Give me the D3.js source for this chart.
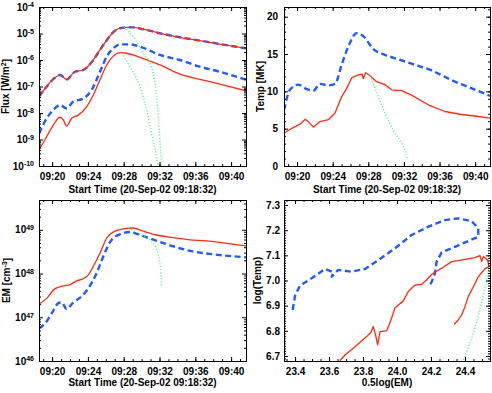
<!DOCTYPE html>
<html>
<head>
<meta charset="utf-8">
<script src="https://cdn.jsdelivr.net/npm/d3@7"></script>
<style>
	body { margin: 0; background: #fff; }
	svg text { font-family: "Liberation Sans", Arial, sans-serif; font-weight: bold; font-size: 10px; fill: #000; }
</style>
</head>
<body>
<svg id="chart" width="492" height="393"></svg>
<script>
// ---- data ----
const timeRange = ["09:18:32", "09:41:40"];

// Flux panel (W/m^2)
const fluxHiTimes = ["09:18:32", "09:19:24", "09:20:08", "09:20:53", "09:21:37", "09:22:33", "09:23:29", "09:24:36", "09:25:21", "09:26:06", "09:26:50", "09:27:35", "09:28:20", "09:29:04", "09:30:11", "09:32:03", "09:34:17", "09:36:31", "09:38:45", "09:41:40"];
const fluxHi = [4.2e-8, 1.0e-7, 1.9e-7, 2.7e-7, 1.86e-7, 3.6e-7, 4.2e-7, 1.0e-6, 2.4e-6, 5.6e-6, 1.12e-5, 1.58e-5, 1.7e-5, 1.7e-5, 1.45e-5, 1.02e-5, 7.2e-6, 5.4e-6, 4.0e-6, 2.75e-6];

const fluxMidTimes = ["09:18:32", "09:19:24", "09:20:08", "09:20:53", "09:21:37", "09:22:22", "09:23:29", "09:24:25", "09:25:21", "09:26:06", "09:26:50", "09:27:35", "09:28:42", "09:29:49", "09:32:03", "09:34:17", "09:36:31", "09:38:45", "09:41:40"];
const fluxMid = [1.7e-9, 6.3e-9, 1.3e-8, 2.0e-8, 1.5e-8, 2.7e-8, 3.5e-8, 7.4e-8, 3.6e-7, 1.35e-6, 2.75e-6, 3.9e-6, 3.9e-6, 3.2e-6, 1.55e-6, 1.0e-6, 5.6e-7, 3.6e-7, 1.8e-7];

const fluxLoTimes = ["09:18:32", "09:19:24", "09:20:08", "09:20:53", "09:21:15", "09:21:37", "09:22:11", "09:22:55", "09:23:52", "09:24:36", "09:25:21", "09:26:06", "09:26:50", "09:27:35", "09:28:20", "09:29:49", "09:32:03", "09:34:17", "09:36:31", "09:38:45", "09:41:40"];
const fluxLo = [4.0e-10, 1.3e-9, 3.5e-9, 6.9e-9, 5.5e-9, 3.2e-9, 6.3e-9, 8.3e-9, 1.74e-8, 4.8e-8, 1.8e-7, 6.5e-7, 1.4e-6, 1.9e-6, 1.8e-6, 1.26e-6, 6.5e-7, 2.95e-7, 1.86e-7, 1.23e-7, 6.9e-8];

const fluxDecayHiTimes = ["09:28:02", "09:29:04", "09:30:11", "09:31:07", "09:31:30", "09:31:52", "09:32:03", "09:32:15"];
const fluxDecayHi = [1.7e-5, 7.6e-6, 1.8e-6, 5.5e-7, 1.3e-7, 7.2e-9, 9.5e-10, 9.5e-11];
const fluxDecayLoTimes = ["09:27:46", "09:28:42", "09:29:49", "09:30:34", "09:31:07", "09:31:41", "09:31:52"];
const fluxDecayLo = [1.8e-6, 5.6e-7, 1.0e-7, 1.3e-8, 1.7e-9, 2.2e-10, 9e-11];

// Temperature panel (MK)
const tempBlueTimes = ["09:18:32", "09:19:12", "09:20:08", "09:21:05", "09:21:50", "09:22:34", "09:23:31", "09:24:16", "09:25:01", "09:25:45", "09:26:42", "09:27:26", "09:28:32", "09:29:52", "09:31:22", "09:32:52", "09:35:07", "09:37:22", "09:39:37", "09:41:40"];
const tempBlue = [7.5, 10.2, 10.9, 10.3, 10.1, 11.0, 10.8, 11.0, 13.6, 16.0, 17.8, 17.4, 15.7, 14.9, 14.3, 13.7, 12.8, 11.5, 10.4, 9.4];
const tempRedTimes = ["09:18:32", "09:19:24", "09:20:20", "09:20:54", "09:21:16", "09:21:50", "09:22:34", "09:23:31", "09:24:16", "09:25:01", "09:25:34", "09:26:08", "09:26:52", "09:27:19", "09:27:26", "09:27:42", "09:28:12", "09:28:56", "09:29:52", "09:30:37", "09:31:45", "09:32:52", "09:34:44", "09:36:37", "09:38:29", "09:39:59", "09:41:40"];
const tempRed = [4.4, 5.05, 5.6, 6.25, 5.95, 5.2, 5.95, 6.2, 7.1, 9.3, 10.4, 11.8, 12.2, 12.3, 11.7, 12.5, 12.1, 11.3, 10.9, 10.2, 10.1, 9.5, 8.2, 7.3, 6.9, 6.7, 6.4];
const tempGreenTimes = ["09:28:12", "09:29:08", "09:29:52", "09:30:48", "09:31:45", "09:32:07", "09:32:23"];
const tempGreen = [12.1, 9.3, 7.1, 4.8, 3.05, 2.15, 0.8];

// Emission measure panel (cm^-3)
const emRedTimes = ["09:18:32", "09:19:24", "09:20:15", "09:21:15", "09:22:00", "09:22:45", "09:23:29", "09:24:03", "09:24:48", "09:25:21", "09:26:06", "09:27:01", "09:27:57", "09:29:04", "09:30:11", "09:31:41", "09:33:32", "09:35:24", "09:37:16", "09:39:30", "09:41:40"];
const emRed = [2.0e47, 2.7e47, 4.4e47, 5.2e47, 5.6e47, 6.8e47, 7.6e47, 9.3e47, 1.74e48, 2.9e48, 6.5e48, 9.3e48, 1.05e49, 1.1e49, 9.3e48, 7.6e48, 6.6e48, 5.9e48, 5.6e48, 4.9e48, 4.3e48];
const emBlueTimes = ["09:18:32", "09:19:12", "09:19:57", "09:20:42", "09:21:04", "09:21:37", "09:22:22", "09:23:18", "09:24:03", "09:24:58", "09:25:43", "09:26:28", "09:27:35", "09:28:42", "09:29:49", "09:31:41", "09:33:32", "09:35:24", "09:38:01", "09:41:40"];
const emBlue = [5.6e46, 7.2e46, 1.23e47, 2.1e47, 2.2e47, 1.55e47, 2.2e47, 3.0e47, 4.6e47, 1.02e48, 2.45e48, 5.2e48, 7.9e48, 8.9e48, 7.6e48, 5.6e48, 4.2e48, 3.3e48, 2.75e48, 2.35e48];
const emGreenTimes = ["09:28:31", "09:29:49", "09:31:18", "09:31:52", "09:32:07", "09:32:14"];
const emGreen = [1.1e49, 7.9e48, 4.9e48, 2.7e48, 1.3e48, 5.0e47];

// log(Temp) against 0.5 log(EM)
const loopBlueX = [23.386, 23.40, 23.429, 23.498, 23.576, 23.625, 23.616, 23.654, 23.733, 23.811, 23.89, 23.988, 24.086, 24.184, 24.282, 24.36, 24.439, 24.478, 24.478, 24.419, 24.341, 24.263, 24.233, 24.223, 24.204, 24.194];
const loopBlueY = [6.883, 6.94, 6.98, 7.009, 7.046, 7.033, 7.015, 7.042, 7.035, 7.046, 7.081, 7.128, 7.181, 7.214, 7.240, 7.247, 7.236, 7.207, 7.174, 7.157, 7.134, 7.112, 7.075, 7.029, 6.995, 6.982];
const loopRedX = [23.664, 23.694, 23.753, 23.821, 23.847, 23.86, 23.874, 23.886, 23.9, 23.939, 23.953, 23.968, 23.988, 24.037, 24.066, 24.106, 24.145, 24.174, 24.204, 24.263, 24.322, 24.4, 24.459, 24.488, 24.498, 24.507, 24.533, 24.541, 24.517, 24.478, 24.449, 24.419, 24.4, 24.38, 24.36, 24.337];
const loopRedY = [6.681, 6.704, 6.737, 6.777, 6.794, 6.817, 6.783, 6.744, 6.797, 6.8, 6.823, 6.85, 6.892, 6.919, 6.956, 6.982, 6.985, 7.002, 7.025, 7.049, 7.075, 7.084, 7.091, 7.099, 7.075, 7.095, 7.081, 7.055, 7.046, 7.015, 6.975, 6.936, 6.896, 6.863, 6.843, 6.826];
const loopGreenX = [24.541, 24.527, 24.498, 24.469, 24.439, 24.41, 24.39];
const loopGreenY = [7.055, 6.995, 6.916, 6.836, 6.77, 6.717, 6.681];

const RED = "#ff2a12", BLUE = "#1f5bff", GREEN = "#48f27c";
const parseTime = d3.timeParse("%H:%M:%S");
const svg = d3.select("#chart");

function pts(xs, ys, parse) {
	return xs.map((v, i) => [parse ? parseTime(v) : v, ys[i]]);
}

// IDL style frame: ticks on all four sides pointing inward
function frame(g, x, y, xMajor, xMinor, yMajor, yMinor) {
	const [x0, x1] = x.range();
	const [y1, y0] = y.range();
	const side = (axisFn, scale, vals, len, tr) => {
		g.append("g")
			.attr("transform", tr)
			.call(axisFn(scale).tickValues(vals).tickSize(-len).tickFormat(""))
			.call(a => a.select(".domain").remove());
	};
	side(d3.axisBottom, x, xMajor, 4, `translate(0,${y1})`);
	side(d3.axisBottom, x, xMinor, 2, `translate(0,${y1})`);
	side(d3.axisTop, x, xMajor, 4, `translate(0,${y0})`);
	side(d3.axisTop, x, xMinor, 2, `translate(0,${y0})`);
	side(d3.axisLeft, y, yMajor, 4, `translate(${x0},0)`);
	side(d3.axisLeft, y, yMinor, 2, `translate(${x0},0)`);
	side(d3.axisRight, y, yMajor, 4, `translate(${x1},0)`);
	side(d3.axisRight, y, yMinor, 2, `translate(${x1},0)`);
	g.append("rect")
		.attr("x", x0 + 0.5).attr("y", y0 + 0.5)
		.attr("width", x1 - x0).attr("height", y1 - y0)
		.attr("fill", "none").attr("stroke", "#000").attr("stroke-width", 1);
}

function clip(id, x, y) {
	const [x0, x1] = x.range();
	const [y1, y0] = y.range();
	svg.append("clipPath").attr("id", id)
		.append("rect").attr("x", x0).attr("y", y0).attr("width", x1 - x0).attr("height", y1 - y0);
	return svg.append("g").attr("clip-path", `url(#${id})`);
}

function drawLine(g, data, x, y, color, kind, smooth) {
	const line = d3.line().x(d => x(d[0])).y(d => y(d[1]));
	if (smooth) line.curve(d3.curveMonotoneX);
	const path = g.append("path")
		.datum(data)
		.attr("d", line)
		.attr("fill", "none")
		.attr("stroke", color)
		.attr("stroke-linejoin", "round");
	if (kind === "dash") path.attr("stroke-width", 2.4).attr("stroke-dasharray", "6,3.5");
	else if (kind === "dot") path.attr("stroke-width", 1.4).attr("stroke-dasharray", "1,2");
	else path.attr("stroke-width", 1.3);
}

function logTicks(lo, hi) {
	const major = [], minor = [];
	for (let e = lo; e <= hi; e++) {
		major.push(Math.pow(10, e));
		for (let k = 2; k <= 9; k++) minor.push(k * Math.pow(10, e));
	}
	return { major, minor };
}

// exponent labels: 10 with superscript
function powerLabels(g, y, x0, exps) {
	exps.forEach(e => {
		const t = g.append("text")
			.attr("x", x0 - 5)
			.attr("y", y(Math.pow(10, e)))
			.attr("dy", "0.35em")
			.attr("text-anchor", "end");
		t.append("tspan").text("10");
		t.append("tspan").attr("dy", "-0.45em").style("font-size", "7px").text(e);
	});
}

function timeLabels(g, x, yBase) {
	g.append("g")
		.attr("transform", `translate(0,${yBase})`)
		.call(d3.axisBottom(x).tickValues(d3.timeMinute.every(4).range(x.domain()[0], x.domain()[1]))
			.tickSize(0).tickPadding(7).tickFormat(d3.timeFormat("%H:%M")))
		.call(a => a.select(".domain").remove());
}

function xTitle(text, cx, y) {
	svg.append("text").attr("x", cx).attr("y", y).attr("text-anchor", "middle").text(text);
}

function yTitle(parts, x, cy) {
	const t = svg.append("text")
		.attr("transform", `translate(${x},${cy}) rotate(-90)`)
		.attr("text-anchor", "middle");
	parts.forEach(p => {
		const s = t.append("tspan").text(p.t);
		if (p.sup) s.attr("dy", "-0.45em").style("font-size", "7px");
		if (p.down) s.attr("dy", "0.45em");
	});
}

const tDomain = timeRange.map(parseTime);
const minorTimes = d3.timeMinute.every(1).range(tDomain[0], tDomain[1]);
const majorTimes = d3.timeMinute.every(4).range(tDomain[0], tDomain[1]);
const L = [39, 246], R = [284, 490], T = [166, 7], B = [361, 200];

// ---- panel 1: flux ----
{
	const x = d3.scaleTime().domain(tDomain).range(L);
	const y = d3.scaleLog().domain([1e-10, 1e-4]).range(T);
	const g = clip("c1", x, y);
	drawLine(g, pts(fluxHiTimes, fluxHi, true), x, y, BLUE, "dash", true);
	drawLine(g, pts(fluxHiTimes, fluxHi, true), x, y, RED, "solid", true);
	drawLine(g, pts(fluxMidTimes, fluxMid, true), x, y, BLUE, "dash", true);
	drawLine(g, pts(fluxLoTimes, fluxLo, true), x, y, RED, "solid", true);
	drawLine(g, pts(fluxDecayHiTimes, fluxDecayHi, true), x, y, GREEN, "dot", true);
	drawLine(g, pts(fluxDecayLoTimes, fluxDecayLo, true), x, y, GREEN, "dot", true);
	const lt = logTicks(-10, -5);
	const f = svg.append("g");
	frame(f, x, y, majorTimes, minorTimes, lt.major.concat([1e-4]), lt.minor);
	powerLabels(f, y, L[0], [-4, -5, -6, -7, -8, -9, -10]);
	timeLabels(f, x, T[0]);
	xTitle("Start Time (20-Sep-02 09:18:32)", (L[0] + L[1]) / 2, 193);
	yTitle([{ t: "Flux [W/m" }, { t: "2", sup: true }, { t: "]", down: true }], 9, (T[0] + T[1]) / 2);
}

// ---- panel 2: temperature ----
{
	const x = d3.scaleTime().domain(tDomain).range(R);
	const y = d3.scaleLinear().domain([0, 21.3]).range(T);
	const g = clip("c2", x, y);
	drawLine(g, pts(tempBlueTimes, tempBlue, true), x, y, BLUE, "dash", true);
	drawLine(g, pts(tempRedTimes, tempRed, true), x, y, RED, "solid");
	drawLine(g, pts(tempGreenTimes, tempGreen, true), x, y, GREEN, "dot", true);
	const f = svg.append("g");
	frame(f, x, y, majorTimes, minorTimes, [0, 5, 10, 15, 20], d3.range(0, 22, 1));
	f.append("g")
		.attr("transform", `translate(${R[0]},0)`)
		.call(d3.axisLeft(y).tickValues([0, 5, 10, 15, 20]).tickSize(0).tickPadding(6))
		.call(a => a.select(".domain").remove());
	timeLabels(f, x, T[0]);
	xTitle("Start Time (20-Sep-02 09:18:32)", (R[0] + R[1]) / 2, 193);
	yTitle([{ t: "Temp [MK]" }], 264, (T[0] + T[1]) / 2);
}

// ---- panel 3: emission measure ----
{
	const x = d3.scaleTime().domain(tDomain).range(L);
	const y = d3.scaleLog().domain([1e46, 4.8e49]).range(B);
	const g = clip("c3", x, y);
	drawLine(g, pts(emBlueTimes, emBlue, true), x, y, BLUE, "dash", true);
	drawLine(g, pts(emRedTimes, emRed, true), x, y, RED, "solid", true);
	drawLine(g, pts(emGreenTimes, emGreen, true), x, y, GREEN, "dot", true);
	const lt = logTicks(46, 49);
	const f = svg.append("g");
	frame(f, x, y, majorTimes, minorTimes, lt.major, lt.minor.filter(v => v < 4.8e49));
	powerLabels(f, y, L[0], [46, 47, 48, 49]);
	timeLabels(f, x, B[0]);
	xTitle("Start Time (20-Sep-02 09:18:32)", (L[0] + L[1]) / 2, 386);
	yTitle([{ t: "EM [cm" }, { t: "-3", sup: true }, { t: "]", down: true }], 10, (B[0] + B[1]) / 2);
}

// ---- panel 4: loop ----
{
	const x = d3.scaleLinear().domain([23.335, 24.547]).range(R);
	const y = d3.scaleLinear().domain([6.68, 7.32]).range(B);
	const g = clip("c4", x, y);
	drawLine(g, pts(loopBlueX, loopBlueY), x, y, BLUE, "dash");
	drawLine(g, pts(loopRedX, loopRedY), x, y, RED, "solid");
	drawLine(g, pts(loopGreenX, loopGreenY), x, y, GREEN, "dot");
	const xMaj = [23.4, 23.6, 23.8, 24.0, 24.2, 24.4];
	const xMin = d3.range(23.35, 24.55, 0.05).map(v => +v.toFixed(2));
	const yMaj = [6.7, 6.8, 6.9, 7.0, 7.1, 7.2, 7.3];
	const yMin = d3.range(6.68, 7.32, 0.01).map(v => +v.toFixed(2));
	const f = svg.append("g");
	frame(f, x, y, xMaj, xMin, yMaj, yMin);
	f.append("g")
		.attr("transform", `translate(0,${B[0]})`)
		.call(d3.axisBottom(x).tickValues(xMaj).tickSize(0).tickPadding(7).tickFormat(d3.format(".1f")))
		.call(a => a.select(".domain").remove());
	f.append("g")
		.attr("transform", `translate(${R[0]},0)`)
		.call(d3.axisLeft(y).tickValues(yMaj).tickSize(0).tickPadding(4).tickFormat(d3.format(".1f")))
		.call(a => a.select(".domain").remove());
	xTitle("0.5log(EM)", (R[0] + R[1]) / 2, 386);
	yTitle([{ t: "log(Temp)" }], 261, (B[0] + B[1]) / 2);
}
</script>
</body>
</html>
